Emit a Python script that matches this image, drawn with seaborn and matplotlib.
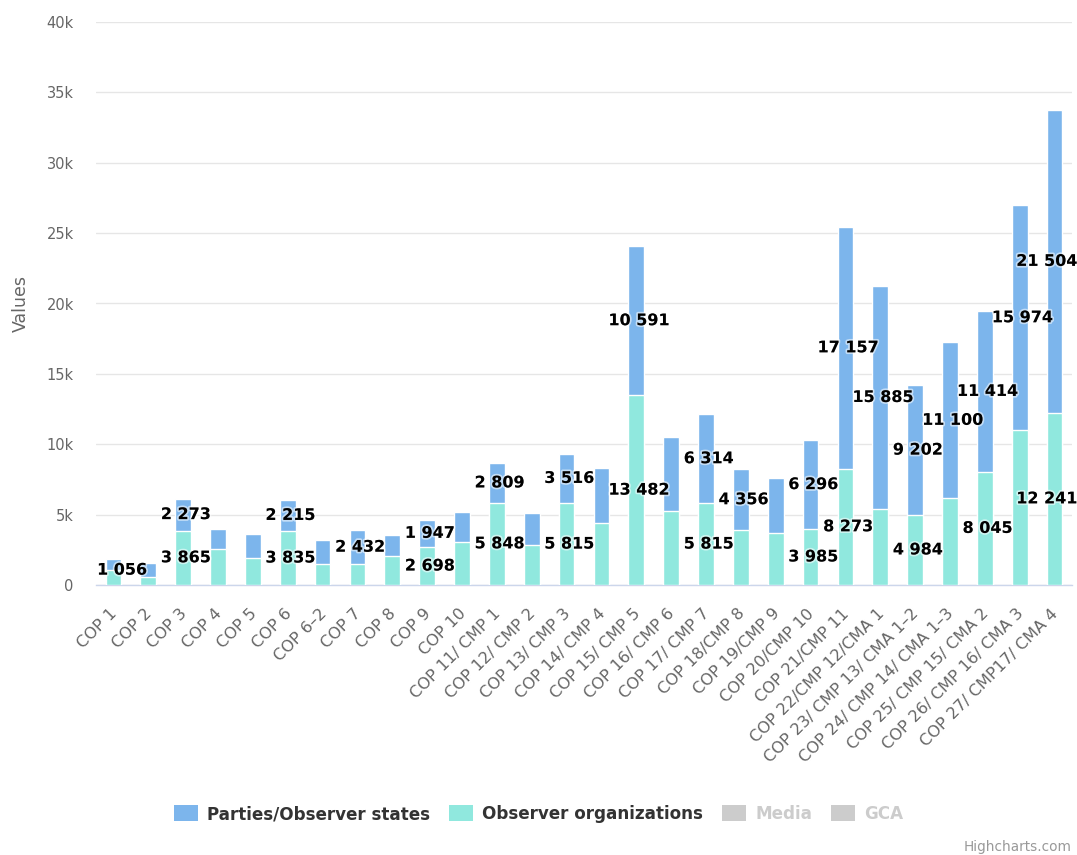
import numpy as np
import pandas as pd
import matplotlib
matplotlib.use("Agg")
import matplotlib.pyplot as plt
import matplotlib.patheffects as pe
import matplotlib.transforms as mtransforms
from matplotlib.patches import Patch
from matplotlib.ticker import FixedLocator
import seaborn as sns

# ---------------- data ----------------
categories = [
    "COP 1", "COP 2", "COP 3", "COP 4", "COP 5", "COP 6", "COP 6\u20132", "COP 7",
    "COP 8", "COP 9", "COP 10", "COP 11/ CMP 1", "COP 12/ CMP 2", "COP 13/ CMP 3",
    "COP 14/ CMP 4", "COP 15/ CMP 5", "COP 16/ CMP 6", "COP 17/ CMP 7", "COP 18/CMP 8",
    "COP 19/CMP 9", "COP 20/CMP 10", "COP 21/CMP 11", "COP 22/CMP 12/CMA 1",
    "COP 23/ CMP 13/ CMA 1\u20132", "COP 24/ CMP 14/ CMA 1\u20133",
    "COP 25/ CMP 15/ CMA 2", "COP 26/ CMP 16/ CMA 3", "COP 27/ CMP17/ CMA 4",
]
parties = [790, 980, 2273, 1390, 1750, 2215, 1720, 2432, 1480, 1947, 2180, 2809,
           2270, 3516, 3880, 10591, 5220, 6314, 4356, 3970, 6296, 17157, 15885,
           9202, 11100, 11414, 15974, 21504]
observers = [1056, 580, 3865, 2560, 1900, 3835, 1460, 1470, 2040, 2698, 3040, 5848,
             2870, 5815, 4420, 13482, 5290, 5815, 3880, 3660, 3985, 8273, 5380,
             4984, 6150, 8045, 11000, 12241]
# which data labels are visible in the original (others hidden by overlap)
parties_label_shown = [0, 0, 1, 0, 0, 1, 0, 1, 0, 1, 0, 1, 0, 1, 0, 1, 0, 1, 1, 0,
                       1, 1, 1, 1, 1, 1, 1, 1]
observers_label_shown = [1, 0, 1, 0, 0, 1, 0, 0, 0, 1, 0, 1, 0, 1, 0, 1, 0, 1, 0, 0,
                         1, 1, 0, 1, 0, 1, 0, 1]
yticks = [0, 5000, 10000, 15000, 20000, 25000, 30000, 35000, 40000]
ytick_labels = ["0", "5k", "10k", "15k", "20k", "25k", "30k", "35k", "40k"]
series_names = ["Parties/Observer states", "Observer organizations", "Media", "GCA"]

# ---------------- style ----------------
BLUE = "#7cb5ec"
TEAL = "#90e8de"
GREY_TXT = "#666666"

sns.set_theme(style="white")
plt.rcParams["font.family"] = ["DejaVu Sans"]

df = pd.DataFrame({
    "cat": categories,
    "parties": parties,
    "observers": observers,
})
df["total"] = df["parties"] + df["observers"]

fig = plt.figure(figsize=(10.77, 8.55), dpi=100)
ax = fig.add_axes([96 / 1077, (855 - 585) / 855, (1072 - 96) / 1077, (585 - 22) / 855])

sns.barplot(data=df, x="cat", y="total", color=BLUE, saturation=1, width=0.45,
            edgecolor="white", linewidth=1, ax=ax, zorder=3)
sns.barplot(data=df, x="cat", y="observers", color=TEAL, saturation=1, width=0.45,
            edgecolor="white", linewidth=1, ax=ax, zorder=4)

n = len(categories)
ax.set_xlim(-0.5, n - 0.5)
ax.set_ylim(0, 40000)
ax.set_yticks(yticks)
ax.set_yticklabels(ytick_labels, color=GREY_TXT, fontsize=10.5)
ax.tick_params(axis="y", length=0, pad=16)
ax.yaxis.grid(True, color="#e6e6e6", linewidth=1, zorder=0)
ax.xaxis.grid(False)
ax.set_axisbelow(True)

for s in ["top", "right", "left"]:
    ax.spines[s].set_visible(False)
ax.spines["bottom"].set_color("#ccd6eb")
ax.spines["bottom"].set_linewidth(1)

ax.set_xticks(range(n))
ax.set_xticklabels(categories, rotation=45, ha="right", va="top",
                   rotation_mode="anchor", color=GREY_TXT, fontsize=11.6)
ax.tick_params(axis="x", which="major", length=0, pad=15)
shift_tf = mtransforms.ScaledTranslation(-4 / 100, 0, fig.dpi_scale_trans)
for lbl in ax.get_xticklabels():
    lbl.set_transform(lbl.get_transform() + shift_tf)
ax.xaxis.set_minor_locator(FixedLocator(np.arange(-0.5, n, 1.0)))
ax.tick_params(axis="x", which="minor", length=10, width=1, color="#ccd6eb")

ax.set_xlabel("")
ax.set_ylabel("Values", color=GREY_TXT, fontsize=12.5, labelpad=12)

# ---------------- data labels ----------------
def fmt(v):
    return f"{v:,}".replace(",", " ")

halo = [pe.withStroke(linewidth=2.5, foreground=(1, 1, 1, 0.55))]
label_kw = dict(ha="center", va="center", fontsize=11.5, fontweight="bold",
                color="black", zorder=6, path_effects=halo, clip_on=False)
dx = 0.08
for i in range(n):
    shift = dx if i < n - 1 else -0.22  # last labels kept inside the chart
    if observers_label_shown[i]:
        yb = observers[i] / 2
        xi = i + shift
        if i == 0:  # small bar: label pushed up/right as in original
            xi, yb = i + 0.25, observers[i]
        ax.text(xi, yb, fmt(observers[i]), **label_kw)
    if parties_label_shown[i]:
        yb = observers[i] + parties[i] / 2
        ax.text(i + shift, yb, fmt(parties[i]), **label_kw)

# ---------------- legend ----------------
handles = [
    Patch(facecolor=BLUE, edgecolor="none"),
    Patch(facecolor=TEAL, edgecolor="none"),
    Patch(facecolor="#cccccc", edgecolor="none"),
    Patch(facecolor="#cccccc", edgecolor="none"),
]
leg = fig.legend(handles, series_names, loc="center", bbox_to_anchor=(0.5, 1 - 814 / 855),
                 ncol=4, frameon=False, handlelength=1.45, handleheight=1.05,
                 handletextpad=0.55, columnspacing=1.1,
                 prop=dict(family="DejaVu Sans", weight="bold", size=12.1))
for t, c in zip(leg.get_texts(), ["#333333", "#333333", "#cccccc", "#cccccc"]):
    t.set_color(c)

fig.text(1072 / 1077, 1 - 847 / 855, "Highcharts.com", ha="right", va="center",
         color="#999999", fontsize=9.8)

fig.savefig("out.png", dpi=100)
